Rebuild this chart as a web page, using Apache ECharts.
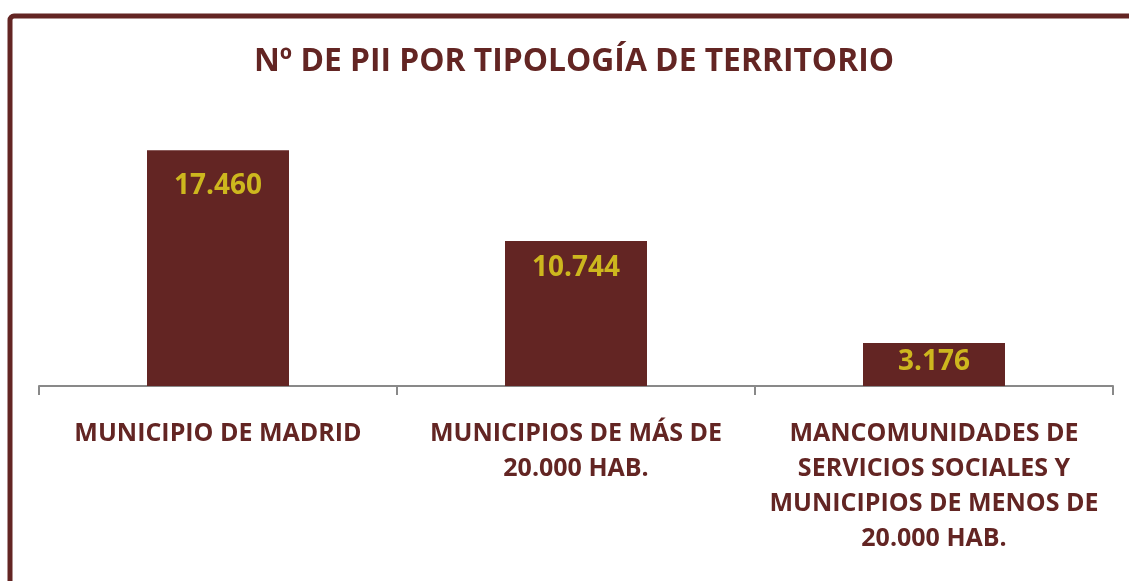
<!DOCTYPE html>
<html>
<head>
<meta charset="utf-8">
<script src="https://cdn.jsdelivr.net/npm/echarts@6/dist/echarts.min.js"></script>
<style>
  html, body { margin: 0; padding: 0; background: #fff; }
  #chart { width: 1129px; height: 581px; }
</style>
</head>
<body>
<div id="chart"></div>
<script>
// categories and values
const categories = [
    'MUNICIPIO DE MADRID',
    'MUNICIPIOS DE MÁS DE\n20.000 HAB.',
    'MANCOMUNIDADES DE\nSERVICIOS SOCIALES Y\nMUNICIPIOS DE MENOS DE\n20.000 HAB.'
];
const pii_count = [17460, 10744, 3176];
// gap between bar top and its value label
const label_gap = [22, 13, 5];

const maroon = '#632523';
const gold = '#CDB71E';
const font = 'Open Sans';

var myChart = echarts.init(document.getElementById('chart'));
var option;

option = {
    textStyle: { fontFamily: font },
    title: {
        text: 'Nº DE PII POR TIPOLOGÍA DE TERRITORIO',
        left: 249,
        top: 41,
        textStyle: {
            color: maroon,
            fontSize: 31.8,
            fontWeight: 'bold',
            fontFamily: font
        }
    },
    graphic: [
        {
            // frame around the chart (cut off at right and bottom)
            type: 'rect',
            shape: { x: 10, y: 16, width: 1200, height: 700, r: 4 },
            style: { fill: 'none', stroke: maroon, lineWidth: 5 }
        }
    ],
    grid: { left: 39, right: 16, top: 116, bottom: 195 },
    xAxis: {
        type: 'category',
        data: categories,
        axisLine: { lineStyle: { color: '#898989', width: 2 } },
        axisTick: { show: true, length: 9, lineStyle: { color: '#898989', width: 2 } },
        axisLabel: {
            color: maroon,
            fontSize: 25,
            fontWeight: 'bold',
            fontFamily: font,
            lineHeight: 35,
            margin: 30,
            interval: 0
        }
    },
    yAxis: {
        type: 'value',
        min: 0,
        max: 20000,
        show: false
    },
    series: [
        {
            name: 'PII',
            type: 'bar',
            data: pii_count.map(function (v, i) {
                return { value: v, label: { distance: label_gap[i] } };
            }),
            barWidth: 142,
            itemStyle: { color: maroon },
            label: {
                show: true,
                position: 'insideTop',
                color: gold,
                fontSize: 28,
                fontWeight: 'bold',
                fontFamily: font,
                formatter: function (p) {
                    return p.value.toLocaleString('de-DE');
                }
            }
        }
    ]
};

myChart.setOption(option);
window.addEventListener('resize', myChart.resize);
</script>
</body>
</html>
